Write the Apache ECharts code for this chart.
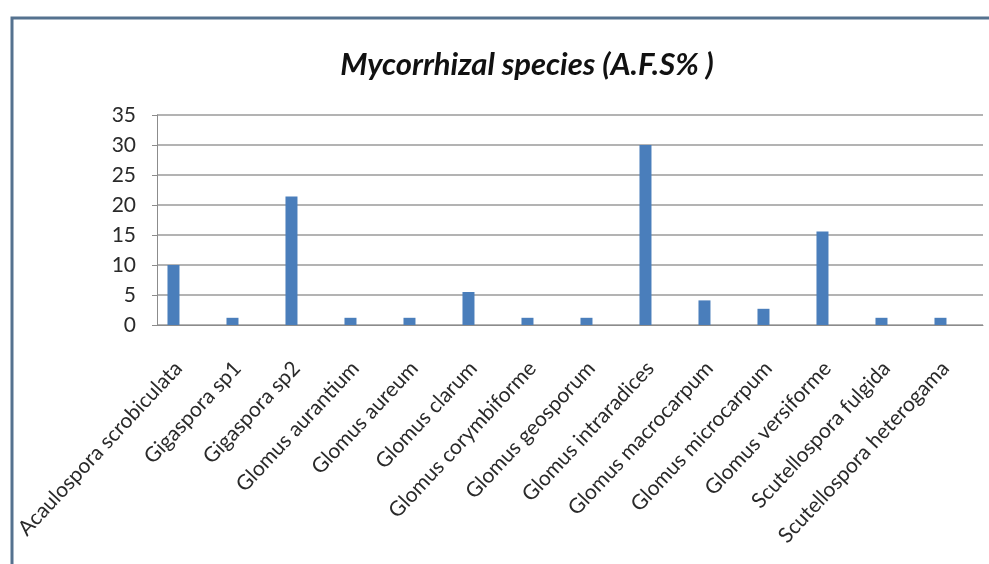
<!DOCTYPE html>
<html>
<head>
<meta charset="utf-8">
<script src="https://cdn.jsdelivr.net/npm/echarts@6/dist/echarts.min.js"></script>
<style>
  html, body { margin: 0; padding: 0; background: #fff; }
  #main { width: 989px; height: 564px; }
</style>
</head>
<body>
<div id="main"></div>
<script>
  var species = [
    'Acaulospora scrobiculata', 'Gigaspora sp1', 'Gigaspora sp2', 'Glomus aurantium',
    'Glomus aureum', 'Glomus clarum', 'Glomus corymbiforme', 'Glomus geosporum',
    'Glomus intraradices', 'Glomus macrocarpum', 'Glomus microcarpum', 'Glomus versiforme',
    'Scutellospora fulgida', 'Scutellospora heterogama'
  ];
  var afs = [10, 1.2, 21.4, 1.2, 1.2, 5.5, 1.2, 1.2, 30, 4.1, 2.7, 15.6, 1.2, 1.2];
  var yTicks = [0, 5, 10, 15, 20, 25, 30, 35];

  var chart = echarts.init(document.getElementById('main'));
  chart.setOption({
    animation: false,
    backgroundColor: '#fff',
    title: {
      text: 'Mycorrhizal species (A.F.S% )',
      left: 522,
      top: 44,
      textAlign: 'center',
      textStyle: {
        fontFamily: 'Lato',
        fontSize: 31,
        fontWeight: 'bold',
        fontStyle: 'italic',
        color: '#111'
      }
    },
    graphic: [{
      type: 'rect',
      shape: { x: 12, y: 18, width: 1000, height: 600 },
      style: { fill: 'none', stroke: '#55728f', lineWidth: 3 },
      silent: true
    }],
    grid: { left: 157, right: 6, top: 115, bottom: 239 },
    xAxis: {
      type: 'category',
      data: species,
      axisLine: { lineStyle: { color: '#8c8c8c' } },
      axisTick: { length: 5, lineStyle: { color: '#8c8c8c' } },
      axisLabel: {
        rotate: 47,
        interval: 0,
        margin: 31,
        padding: [0, 12, 0, 0],
        fontFamily: 'Lato',
        fontSize: 21,
        color: '#2a2a2a'
      }
    },
    yAxis: {
      type: 'value',
      min: yTicks[0],
      max: yTicks[yTicks.length - 1],
      interval: 5,
      axisLine: { show: true, lineStyle: { color: '#8c8c8c' } },
      axisTick: { show: true, length: 5, lineStyle: { color: '#8c8c8c' } },
      axisLabel: {
        margin: 21,
        fontFamily: 'Lato',
        fontSize: 21,
        color: '#2a2a2a'
      },
      splitLine: { lineStyle: { color: '#9a9a9a', width: 1.5 } }
    },
    series: [{
      name: 'A.F.S%',
      type: 'bar',
      data: afs,
      barWidth: 12,
      barGap: '117%',
      itemStyle: { color: '#4a7ebb' }
    }, {
      name: 'empty',
      type: 'bar',
      data: [],
      barWidth: 12
    }]
  });
</script>
</body>
</html>
